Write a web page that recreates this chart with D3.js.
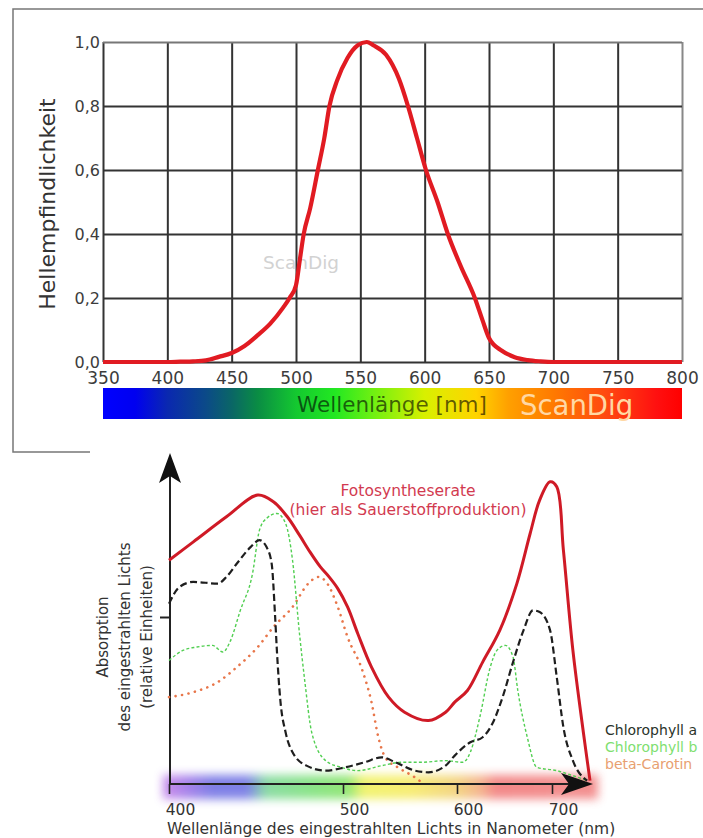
<!DOCTYPE html>
<html>
<head>
<meta charset="utf-8">
<script src="https://cdn.jsdelivr.net/npm/d3@7"></script>
<style>
  body { margin: 0; background: #fff; }
  svg { display: block; }
</style>
</head>
<body>
<div id="chart"></div>
<script>
// --- upper chart: Hellempfindlichkeit (V-lambda) ---
var lumNm  = [350,380,400,410,420,430,440,450,460,470,480,490,495,500,503,506,511,517,522,526,532,540,548,555,560,570,580,587,594,601,610,618,628,639,645,650,660,670,680,690,700,720,800];
var lumVal = [0,0,0,0.001,0.002,0.005,0.016,0.028,0.05,0.083,0.12,0.17,0.2,0.24,0.32,0.4,0.48,0.6,0.7,0.8,0.88,0.95,0.99,1.0,0.99,0.96,0.885,0.8,0.7,0.6,0.5,0.4,0.3,0.2,0.13,0.075,0.035,0.015,0.006,0.002,0,0,0];
var lumXTicks = [350,400,450,500,550,600,650,700,750,800];
var lumYTicks = [0,0.2,0.4,0.6,0.8,1.0];

// --- lower chart: absorption spectra ---
var absXTicks = [400,500,600,700];
var photoNm  = [400,414,433,451,460,468,475,481,487,492,497,504,513,525,540,554,575,590,598,611,627,645,663,677,687,698,705,712,722,733,740];
var photoVal = [1.34,1.45,1.60,1.73,1.69,1.60,1.49,1.39,1.30,1.24,1.17,1.06,0.90,0.70,0.52,0.43,0.38,0.43,0.49,0.56,0.73,0.92,1.20,1.50,1.70,1.81,1.78,1.40,0.80,0.31,0.02];
var chlANm  = [400,406,414,428,433,439,447,452,456,459,461,462,464,467,471,479,490,502,519,534,546,563,575,590,598,614,627,638,648,659,670,680,687,698,705,712,722,737];
var chlAVal = [1.08,1.18,1.21,1.20,1.24,1.32,1.42,1.46,1.42,1.32,1.00,0.80,0.50,0.31,0.19,0.11,0.08,0.10,0.13,0.16,0.13,0.08,0.07,0.11,0.17,0.25,0.28,0.37,0.52,0.73,0.92,1.04,1.03,0.92,0.64,0.34,0.14,0.02];
var chlBNm  = [400,408,416,425,431,435,441,448,452,456,462,467,471,475,478,482,490,499,513,534,552,569,590,606,614,624,635,642,651,659,664,674,684,705,722,737];
var chlBVal = [0.74,0.80,0.82,0.83,0.79,0.85,1.04,1.26,1.52,1.59,1.62,1.56,1.34,0.90,0.62,0.31,0.14,0.10,0.08,0.11,0.13,0.13,0.14,0.13,0.19,0.40,0.70,0.80,0.83,0.76,0.56,0.28,0.10,0.08,0.05,0.02];
var caroNm  = [400,414,428,439,451,460,471,480,486,491,497,504,517,525,531,537,548,563,569];
var caroVal = [0.52,0.55,0.61,0.70,0.82,0.94,1.06,1.20,1.24,1.20,1.06,0.88,0.68,0.49,0.28,0.16,0.10,0.04,0.01];
var legendLabels = ["Chlorophyll a", "Chlorophyll b", "beta-Carotin"];

var font = "DejaVu Sans";
var svg = d3.select("#chart").append("svg").attr("width", 703).attr("height", 838);
var defs = svg.append("defs");

// outer frame of the upper picture
svg.append("path")
  .attr("d", "M90,452 H13 V9 H703")
  .attr("fill", "none").attr("stroke", "#777").attr("stroke-width", 1.5);

// ================= upper chart =================
var xLum = d3.scaleLinear().domain([350, 800]).range([103, 682]);
var yLum = d3.scaleLinear().domain([0, 1]).range([362, 42]);

var gx = svg.append("g").attr("transform", "translate(0,362)")
  .call(d3.axisBottom(xLum).tickValues(lumXTicks).tickSize(-320).tickPadding(10));
var gy = svg.append("g").attr("transform", "translate(103,0)")
  .call(d3.axisLeft(yLum).tickValues(lumYTicks).tickSize(-579).tickPadding(3)
    .tickFormat(function(d) { return d.toFixed(1).replace(".", ","); }));

[gx, gy].forEach(function(g) {
  g.select(".domain").remove();
  g.selectAll("line").attr("stroke", "#333").attr("stroke-width", 2);
  g.selectAll("text").attr("font-family", font).attr("fill", "#3c3c3c");
});
gx.selectAll("text").attr("font-size", 17);
gy.selectAll("text").attr("font-size", 16);
gx.selectAll(".tick").filter(function(d) { return d == 800; }).select("line").attr("stroke", "#888");
gy.selectAll(".tick").filter(function(d) { return d == 1; }).select("line").attr("stroke", "#777");

svg.append("text")
  .attr("transform", "translate(55,204) rotate(-90)")
  .attr("text-anchor", "middle")
  .attr("font-family", font).attr("font-size", 22).attr("fill", "#333")
  .text("Hellempfindlichkeit");

svg.append("text")
  .attr("x", 263).attr("y", 269)
  .attr("font-family", font).attr("font-size", 18.5).attr("fill", "#d2d2d2")
  .text("ScanDig");

var lumLine = d3.line()
  .x(function(d, i) { return xLum(lumNm[i]); })
  .y(function(d) { return yLum(d); })
  .curve(d3.curveMonotoneX);
svg.append("path")
  .attr("d", lumLine(lumVal))
  .attr("fill", "none").attr("stroke", "#e11b22").attr("stroke-width", 4.2)
  .attr("stroke-linejoin", "round");

// colour bar under the upper chart
var topStops = [[350,"#0000ff"],[375,"#0000f0"],[400,"#0a28b0"],[430,"#0b4a88"],[450,"#0a6666"],[470,"#0a8c44"],[500,"#14c830"],[530,"#22e822"],[560,"#70f012"],[600,"#d8f000"],[640,"#ffd400"],[665,"#ffa000"],[700,"#ff7a00"],[740,"#ff4a10"],[780,"#ff1010"],[800,"#ff0000"]];
var gradTop = defs.append("linearGradient").attr("id", "specTop");
gradTop.selectAll("stop").data(topStops).enter().append("stop")
  .attr("offset", function(d) { return (d[0] - 350) / 450; })
  .attr("stop-color", function(d) { return d[1]; });
svg.append("rect")
  .attr("x", xLum(350)).attr("y", 388)
  .attr("width", xLum(800) - xLum(350)).attr("height", 31)
  .attr("fill", "url(#specTop)");
svg.append("text")
  .attr("x", 297).attr("y", 412)
  .attr("font-family", font).attr("font-size", 21.5).attr("fill", "#000").attr("fill-opacity", 0.6)
  .text("Wellenlänge [nm]");
svg.append("text")
  .attr("x", 520).attr("y", 415)
  .attr("font-family", font).attr("font-size", 27.5).attr("fill", "#ffd8a4")
  .text("ScanDig");

// ================= lower chart =================
var xAbs = d3.scaleLinear().domain([400, 500, 600, 700, 740]).range([169, 343, 457, 552, 590]);
var yAbs = d3.scaleLinear().domain([0, 1]).range([784, 617]);

// blurred spectrum band along the x axis
var lowStops = [[400,"#b36be6"],[412,"#8a60e4"],[425,"#5c5ce0"],[445,"#5b5fe0"],[456,"#6ad28a"],[480,"#6adc6a"],[505,"#74e050"],[518,"#eef048"],[560,"#f5e850"],[600,"#f0c860"],[625,"#f2a070"],[640,"#f06868"],[735,"#f07070"]];
var bandX0 = xAbs(400) - 6, bandX1 = xAbs(740) + 8;
var gradLow = defs.append("linearGradient").attr("id", "specLow")
  .attr("gradientUnits", "userSpaceOnUse").attr("x1", bandX0).attr("x2", bandX1);
gradLow.selectAll("stop").data(lowStops).enter().append("stop")
  .attr("offset", function(d) { return (xAbs(d[0]) - bandX0) / (bandX1 - bandX0); })
  .attr("stop-color", function(d) { return d[1]; });
defs.append("filter").attr("id", "blur").attr("x", "-10%").attr("y", "-60%").attr("width", "120%").attr("height", "220%")
  .append("feGaussianBlur").attr("stdDeviation", 5);
svg.append("rect")
  .attr("x", bandX0).attr("y", 775).attr("width", bandX1 - bandX0).attr("height", 24)
  .attr("fill", "url(#specLow)").attr("filter", "url(#blur)").attr("opacity", 0.78);

// axes
var ax = svg.append("g").attr("transform", "translate(0,784)")
  .call(d3.axisBottom(xAbs).tickValues(absXTicks).tickSize(10).tickPadding(10));
ax.select(".domain").remove();
ax.selectAll("line").attr("stroke", "#222").attr("stroke-width", 1.6);
ax.selectAll("text").attr("font-family", font).attr("font-size", 15.5).attr("fill", "#333").attr("dx", 11);

var ay = svg.append("g").attr("transform", "translate(170,0)")
  .call(d3.axisLeft(yAbs).tickValues([1]).tickSize(10).tickFormat(""));
ay.select(".domain").remove();
ay.selectAll("line").attr("stroke", "#222").attr("stroke-width", 2);

svg.append("line").attr("x1", 170).attr("x2", 170).attr("y1", 785).attr("y2", 470)
  .attr("stroke", "#222").attr("stroke-width", 2);
svg.append("line").attr("x1", 169).attr("x2", 572).attr("y1", 784).attr("y2", 784)
  .attr("stroke", "#222").attr("stroke-width", 2);
svg.append("path").attr("d", "M170,453 L181,483 L170,476 L159,483 Z").attr("fill", "#111");
svg.append("path").attr("d", "M593,784 L561,773 L569,784 L561,795 Z").attr("fill", "#111");

// curves
function curve(nm, val, c) {
  return d3.line()
    .x(function(d, i) { return xAbs(nm[i]); })
    .y(function(d) { return yAbs(d); })
    .curve(c || d3.curveMonotoneX)(val);
}
svg.append("path").attr("d", curve(caroNm, caroVal))
  .attr("fill", "none").attr("stroke", "#e8764a").attr("stroke-width", 2.6)
  .attr("stroke-dasharray", "0.1,6.5").attr("stroke-linecap", "round");
svg.append("path").attr("d", curve(chlBNm, chlBVal))
  .attr("fill", "none").attr("stroke", "#52cf52").attr("stroke-width", 1.4)
  .attr("stroke-dasharray", "3,2.2");
svg.append("path").attr("d", curve(chlANm, chlAVal))
  .attr("fill", "none").attr("stroke", "#1e1e1e").attr("stroke-width", 2.2)
  .attr("stroke-dasharray", "7,3.5");
svg.append("path").attr("d", curve(photoNm, photoVal, d3.curveCatmullRom.alpha(0.5)))
  .attr("fill", "none").attr("stroke", "#cf1a26").attr("stroke-width", 3)
  .attr("stroke-linejoin", "round");

// labels
svg.append("text").attr("x", 408).attr("y", 496).attr("text-anchor", "middle")
  .attr("font-family", font).attr("font-size", 15.5).attr("fill", "#d23a50")
  .text("Fotosyntheserate");
svg.append("text").attr("x", 408).attr("y", 515).attr("text-anchor", "middle")
  .attr("font-family", font).attr("font-size", 15.5).attr("fill", "#d23a50")
  .text("(hier als Sauerstoffproduktion)");

var yTitle = ["Absorption", "des eingestrahlten Lichts", "(relative Einheiten)"];
svg.selectAll(".ytitle").data(yTitle).enter().append("text")
  .attr("transform", function(d, i) { return "translate(" + (108 + i * 22) + ",637) rotate(-90)"; })
  .attr("text-anchor", "middle")
  .attr("font-family", font).attr("font-size", 15).attr("fill", "#333")
  .text(function(d) { return d; });

svg.append("text").attr("x", 167).attr("y", 834)
  .attr("font-family", font).attr("font-size", 15.5).attr("fill", "#333")
  .text("Wellenlänge des eingestrahlten Lichts in Nanometer (nm)");

var legendColors = ["#2a332a", "#80e070", "#e8a070"];
svg.selectAll(".legend").data(legendLabels).enter().append("text")
  .attr("x", 605).attr("y", function(d, i) { return 735 + i * 17; })
  .attr("font-family", font).attr("font-size", 14)
  .attr("fill", function(d, i) { return legendColors[i]; })
  .text(function(d) { return d; });
</script>
</body>
</html>
